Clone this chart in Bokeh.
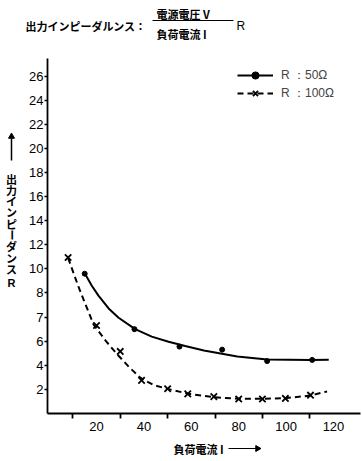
import math
from bokeh.plotting import figure
from bokeh.layouts import column, row
from bokeh.models import FixedTicker, Range1d, Legend, LegendItem
from bokeh.core.properties import value
from bokeh.embed import file_html
from bokeh.resources import INLINE

# ---------------- data ----------------
x_ticks = [20, 40, 60, 80, 100, 120]
x_minor_ticks = [10, 30, 50, 70, 90, 110]
# the printed y axis is evenly spaced but labelled 2,4,6,7,8,10,...,26
y_tick_pos = [2, 4, 6, 8, 10, 12, 14, 16, 18, 20, 22, 24, 26, 28]
y_tick_labels = ["2", "4", "6", "7", "8", "10", "12", "14", "16", "18",
                 "20", "22", "24", "26"]

# R = 50 ohm  (measured points and hand-drawn curve), y in axis-position units
r50_current = [15, 36, 55, 73, 92, 111]
r50_impedance = [11.6, 7.0, 5.55, 5.3, 4.35, 4.45]
r50_curve_current = [15, 18, 20.8, 25.1, 29.3, 36.3, 43.3, 50.4, 57.4, 65.3,
                     79.4, 92, 110.3, 118]
r50_curve_impedance = [11.64, 10.6, 9.78, 8.72, 7.95, 7.0, 6.38, 5.95, 5.6, 5.23,
                       4.73, 4.48, 4.45, 4.47]

# R = 100 ohm
r100_current = [8, 20, 30, 39, 50, 58.5, 69.5, 80, 90, 99.7, 110.3]
r100_impedance = [12.95, 7.3, 5.15, 2.75, 2.05, 1.63, 1.4, 1.2, 1.2, 1.25, 1.52]
r100_curve_current = [8, 12.4, 18.7, 24, 29, 34, 38.6, 44.2, 49.8, 58.9, 69.5,
                      80, 90, 99.7, 110.3, 117.3]
r100_curve_impedance = [12.9, 10.5, 7.4, 6.0, 4.85, 3.8, 2.95, 2.35, 2.05, 1.63,
                        1.35, 1.22, 1.22, 1.27, 1.49, 1.83]

legend_labels = ["R ：50Ω", "R ：100Ω"]
title_main = "出力インピーダルンス："
title_num = "電源電圧 V"
title_den = "負荷電流 I"
title_tail = "R"
y_label = "出力インピーダンスR"
x_label = "負荷電流 I"

# ---------------- layout ----------------
TOTAL_W, TOTAL_H = 362, 461
TOP_H = 58          # title strip
BOT_H = 20          # x-label strip
LEFT_W = 22         # y-label strip
MAIN_W = TOTAL_W - LEFT_W
MAIN_H = TOTAL_H - TOP_H - BOT_H
L, R, T, B = 25, 2, 0, 28
x0, x1 = -0.7, 131.4
y0, y1 = 0.0, 29.46

JP = "Noto Sans CJK JP"
NUM = "Liberation Sans"


def strip(w, h, bottom=0):
    f = figure(width=w, height=h, output_backend="svg", toolbar_location=None,
               x_range=Range1d(0, w), y_range=Range1d(h - bottom, 0),
               x_axis_type=None, y_axis_type=None, title=None,
               min_border=0, min_border_left=0, min_border_right=0,
               min_border_top=0, min_border_bottom=bottom)
    f.outline_line_color = None
    f.xgrid.visible = False
    f.ygrid.visible = False
    f.background_fill_color = "white"
    f.border_fill_color = "white"
    return f


def txt(f, x, y, text, align="left", size="11px", bold=True, angle=0.0, font=JP):
    f.text(x=[x], y=[y], text=[text], text_align=align, text_baseline="middle",
           text_font=value(font), text_font_size=value(size),
           text_font_style="bold" if bold else "normal",
           text_color="black", angle=angle)


def arrow(f, xs, ys, xe, ye, width=1.2, hsize=6):
    f.segment(x0=[xs], y0=[ys], x1=[xe], y1=[ye], line_width=width, line_color="black")
    ang = math.atan2(-(ye - ys), xe - xs) - math.pi / 2  # triangle points up by default
    f.scatter(x=[xe], y=[ye], marker="triangle", size=hsize, angle=ang,
              fill_color="black", line_color="black")


# ---- title strip (fraction) ----
top = strip(TOTAL_W, TOP_H)
txt(top, 25, 25, title_main)
txt(top, 156, 13, title_num)
txt(top, 156, 33, title_den)
txt(top, 236, 25, title_tail, font=NUM, bold=False, size="12px")
top.segment(x0=[152], y0=[20], x1=[233], y1=[20], line_width=1, line_color="black")

# ---- y-label strip: stacked upright characters with an arrow above ----
# its frame is given the same height as the chart frame beside it
left = strip(LEFT_W, MAIN_H, bottom=B)
arrow(left, 11, 160 - TOP_H, 11, 136 - TOP_H, width=1.5, hsize=6)
ystart, ystep = 178 - TOP_H, 11.3
for i, ch in enumerate(y_label):
    yy = ystart + i * ystep + (3 if ch == "R" else 0)
    if ch == "R":
        txt(left, 11, yy, ch, align="center", font=NUM, size="11px")
    elif ch == "ー":
        txt(left, 11, yy, ch, align="center", angle=math.pi / 2)
    else:
        txt(left, 11, yy, ch, align="center")

# ---- main chart ----
p = figure(width=MAIN_W, height=MAIN_H, output_backend="svg", toolbar_location=None,
           x_range=Range1d(x0, x1), y_range=Range1d(y0, y1), title=None,
           min_border_left=L, min_border_right=R,
           min_border_top=T, min_border_bottom=B)
p.outline_line_color = None
p.xgrid.visible = False
p.ygrid.visible = False
p.background_fill_color = "white"
p.border_fill_color = "white"

xa = p.xaxis[0]
xa.ticker = FixedTicker(ticks=x_ticks, minor_ticks=x_minor_ticks)
xa.axis_line_width = 1.8
xa.axis_line_color = "black"
xa.major_tick_out = 0
xa.major_tick_in = 0
xa.minor_tick_out = 5
xa.minor_tick_in = 0
xa.minor_tick_line_width = 1.8
xa.minor_tick_line_color = "black"
xa.major_label_standoff = 3
xa.major_label_text_font = NUM
xa.major_label_text_font_size = "13px"
xa.major_label_text_color = "black"

ya = p.yaxis[0]
ya.ticker = FixedTicker(ticks=y_tick_pos)
ya.major_label_overrides = {pos: lab for pos, lab in zip(y_tick_pos, y_tick_labels)}
ya.axis_line_width = 1.8
ya.axis_line_color = "black"
ya.major_tick_out = 3
ya.major_tick_in = 0
ya.major_tick_line_width = 1.5
ya.major_tick_line_color = "black"
ya.minor_tick_line_color = None
ya.major_label_standoff = 1
ya.major_label_text_font = NUM
ya.major_label_text_font_size = "13px"
ya.major_label_text_color = "black"

l1 = p.line(r50_curve_current, r50_curve_impedance, line_width=2, color="black")
s1 = p.scatter(r50_current, r50_impedance, marker="circle", size=5, color="black")
l2 = p.line(r100_curve_current, r100_curve_impedance, line_width=2, color="black",
            line_dash="6 4")
s2 = p.scatter(r100_current, r100_impedance, marker="x", size=9, line_width=1.8,
               color="black")

legend = Legend(items=[LegendItem(label=legend_labels[0], renderers=[l1, s1]),
                       LegendItem(label=legend_labels[1], renderers=[l2, s2])],
                location=(190, 311), padding=0, margin=0, spacing=0,
                glyph_width=36, glyph_height=18, label_height=18,
                label_standoff=8, label_text_font=NUM,
                label_text_font_size="12px", border_line_color=None,
                background_fill_alpha=0)
p.add_layout(legend)

# ---- x-label strip ----
bot = strip(TOTAL_W, BOT_H)
yb = 448 - (TOP_H + MAIN_H)
txt(bot, 198, yb, x_label, align="center")
arrow(bot, 228, yb, 257, yb, width=1.2, hsize=6)

layout = column(top, row(left, p, spacing=0), bot, spacing=0)
open("out.html", "w").write(file_html(layout, INLINE))
